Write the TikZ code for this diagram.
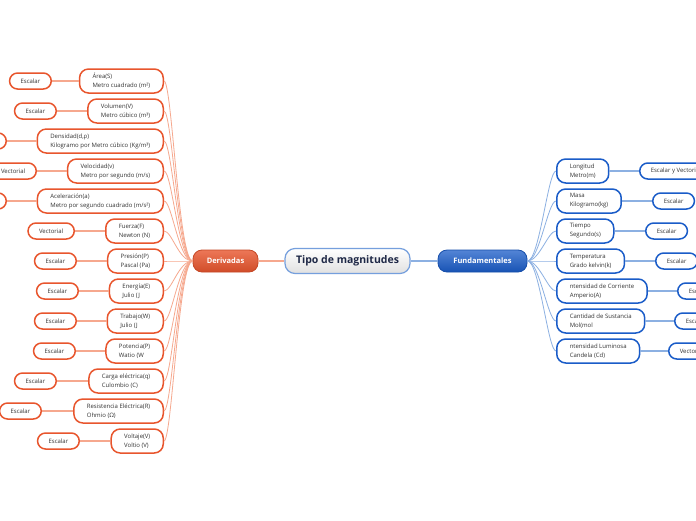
\documentclass[tikz,border=0pt]{standalone}
\usepackage{fontspec}
\setmainfont{Open Sans}
\usetikzlibrary{shadings,calc}
\definecolor{naranja}{RGB}{232,85,45}
\definecolor{salmon}{RGB}{246,168,142}
\definecolor{azul}{RGB}{26,92,200}
\definecolor{celeste}{RGB}{140,176,226}
\definecolor{tinta}{RGB}{30,40,70}
\tikzset{
    hijoD/.style={draw=naranja, line width=1.5pt, rounded corners=9pt, fill=white, align=left,
        font=\fontsize{6}{9}\selectfont, inner xsep=13pt, minimum height=24pt, text=black!80, anchor=east},
    hojaD/.style={draw=naranja, line width=1.5pt, rounded corners=8pt, fill=white,
        font=\fontsize{6}{7}\selectfont, inner xsep=11pt, minimum height=16pt, text=black!80, anchor=east},
    hijoF/.style={hijoD, draw=azul, anchor=west},
    hojaF/.style={hojaD, draw=azul, anchor=west},
    ramaD/.style={draw=salmon, line width=0.8pt},
    ramaF/.style={draw=celeste, line width=0.8pt},
    tallo/.style={line width=1.8pt}
}
\begin{document}
\begin{tikzpicture}[x=1pt,y=-1pt]
    \path[use as bounding box, clip] (0,0) rectangle (696,520);
    \fill[white] (0,0) rectangle (696,520);
    % centro
    \node[draw=celeste!80!azul, line width=1.2pt, rounded corners=10pt, top color=white, bottom color=black!12,
        minimum width=125pt, minimum height=25pt, text=tinta, font=\fontsize{10.5}{12}\selectfont\bfseries]
        (tipo) at (347.5,261) {Tipo de magnitudes};
    \node[draw=naranja!85!black, line width=0.8pt, rounded corners=9pt, top color=naranja!80!white, bottom color=naranja!90!black,
        minimum width=65pt, minimum height=22pt, text=white, font=\fontsize{7.5}{9}\selectfont\bfseries]
        (deriv) at (225.5,261) {Derivadas};
    \node[draw=azul!85!black, line width=0.8pt, rounded corners=9pt, top color=azul!75!white, bottom color=azul!90!black,
        minimum width=89pt, minimum height=22pt, text=white, font=\fontsize{7.5}{9}\selectfont\bfseries]
        (fund) at (482.5,261) {Fundamentales};
    \draw[ramaD, line width=1.2pt] (tipo.west) -- (deriv.east);
    \draw[ramaF, line width=1.2pt] (tipo.east) -- (fund.west);

    % derivadas
    \node[hijoD] (area) at (164,81) {Área(S)\\Metro cuadrado (m²)};
    \node[hijoD] (vol) at (164,111) {Volumen(V)\\Metro cúbico (m³)};
    \node[hijoD] (dens) at (164,141) {Densidad(d,ρ)\\Kilogramo por Metro cúbico (Kg/m³)};
    \node[hijoD] (vel) at (164,171) {Velocidad(v)\\Metro por segundo (m/s)};
    \node[hijoD] (acel) at (164,201) {Aceleración(a)\\Metro por segundo cuadrado (m/s²)};
    \node[hijoD] (fuer) at (164,231) {Fuerza(F)\\Newton (N)};
    \node[hijoD] (pres) at (164,261) {Presión(P)\\Pascal (Pa)};
    \node[hijoD] (ener) at (164,291) {Energía(E)\\Julio (J};
    \node[hijoD] (trab) at (164,321) {Trabajo(W)\\Julio (J};
    \node[hijoD] (pot) at (164,351) {Potencia(P)\\Watio (W};
    \node[hijoD] (carga) at (164,381) {Carga eléctrica(q)\\Culombio (C)};
    \node[hijoD] (resis) at (164,411) {Resistencia Eléctrica(R)\\Ohmio (Ω)};
    \node[hijoD] (volt) at (164,441) {Voltaje(V)\\Voltio (V)};

    \node[hojaD] (areaE) at (52,81) {Escalar};
    \node[hojaD] (volE) at (57,111) {Escalar};
    \node[hojaD] (densE) at (7,141) {Escalar};
    \node[hojaD] (velE) at (37,171) {Vectorial};
    \node[hojaD] (acelE) at (7,201) {Vectorial};
    \node[hojaD] (fuerE) at (75,231) {Vectorial};
    \node[hojaD] (presE) at (77,261) {Escalar};
    \node[hojaD] (enerE) at (79,291) {Escalar};
    \node[hojaD] (trabE) at (77,321) {Escalar};
    \node[hojaD] (potE) at (76,351) {Escalar};
    \node[hojaD] (cargaE) at (57,381) {Escalar};
    \node[hojaD] (resisE) at (42,411) {Escalar};
    \node[hojaD] (voltE) at (80,441) {Escalar};

    \foreach \h in {area,vol,dens,vel,acel,fuer,pres,ener,trab,pot,carga,resis,volt} {
        \draw[ramaD] (deriv.west) .. controls ($(deriv.west)+(-14,0)$) and ($(\h.east)+(8,0)$) .. (\h.east);
        \draw[ramaD, tallo] (\h.west) -- (\h E.east);
    }

    % fundamentales
    \node[hijoF] (long) at (556,171) {Longitud\\Metro(m)};
    \node[hijoF] (masa) at (556,201) {Masa\\Kilogramo(kg)};
    \node[hijoF] (tiem) at (556,231) {Tiempo\\Segundo(s)};
    \node[hijoF] (temp) at (556,261) {Temperatura\\Grado kelvin(k)};
    \node[hijoF] (corr) at (556,291) {ntensidad de Corriente\\Amperio(A)};
    \node[hijoF] (sust) at (556,321) {Cantidad de Sustancia\\Mol(mol};
    \node[hijoF] (lum) at (556,351) {ntensidad Luminosa\\Candela (Cd)};

    \node[hojaF] (longE) at (639,171) {Escalar y Vectorial};
    \node[hojaF] (masaE) at (652,201) {Escalar};
    \node[hojaF] (tiemE) at (645,231) {Escalar};
    \node[hojaF] (tempE) at (655,261) {Escalar};
    \node[hojaF] (corrE) at (677,291) {Escalar};
    \node[hojaF] (sustE) at (674,321) {Escalar};
    \node[hojaF] (lumE) at (668,351) {Vectorial};

    \foreach \h in {long,masa,tiem,temp,corr,sust,lum} {
        \draw[ramaF] (fund.east) .. controls ($(fund.east)+(12,0)$) and ($(\h.west)+(-8,0)$) .. (\h.west);
        \draw[ramaF, tallo, line width=1.4pt] (\h.east) -- (\h E.west);
    }
\end{tikzpicture}
\end{document}
